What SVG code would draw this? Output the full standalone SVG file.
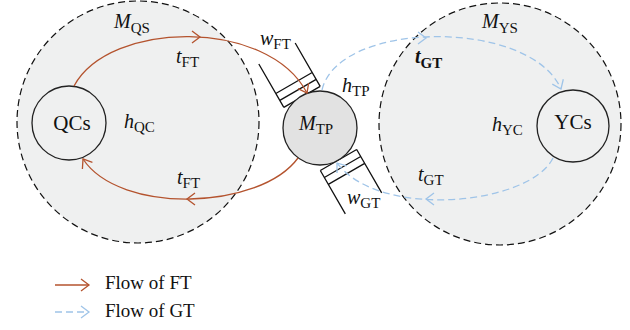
<svg xmlns="http://www.w3.org/2000/svg" width="630" height="330" viewBox="0 0 630 330">
<style>
.zone{fill:#eff0f0;stroke:#111;stroke-width:1.2;stroke-dasharray:7 4}
.node{fill:#eff0f0;stroke:#222;stroke-width:1.3}
.tp{fill:#e2e2e2;stroke:#222;stroke-width:1.3}
.gate{fill:none;stroke:#111;stroke-width:1.3}
.ft{fill:none;stroke:#b4532e;stroke-width:1.3}
.gt{fill:none;stroke:#9fc4e8;stroke-width:1.3;stroke-dasharray:7 4}
.chev-ft{fill:none;stroke:#b4532e;stroke-width:1.3}
.chev-gt{fill:none;stroke:#9fc4e8;stroke-width:1.3}
text{font-family:"Liberation Serif","Times New Roman",serif;fill:#111}
.v{font-style:italic;font-size:20px}
.s{font-size:15px;font-style:normal}
.b{font-weight:bold}
.lbl{font-size:21px}
.leg{font-size:19px}
</style>
<defs>
<marker id="afT" markerWidth="12" markerHeight="14" refX="10" refY="7" orient="auto" markerUnits="userSpaceOnUse">
<path d="M2,1 L10,7 L2,13" class="chev-ft"/>
</marker>
<marker id="agT" markerWidth="12" markerHeight="14" refX="10" refY="7" orient="auto" markerUnits="userSpaceOnUse">
<path d="M2,1 L10,7 L2,13" class="chev-gt"/>
</marker>
<path id="chev" d="M-8,-6 L0,0 L-8,6"/>
</defs>

<g id="zone-QS"><circle cx="138" cy="122" r="121" class="zone"/></g>
<g id="zone-YS"><circle cx="500" cy="124" r="121" class="zone"/></g>
<g id="node-QCs"><circle cx="69" cy="123" r="37" class="node"/></g>
<g id="node-YCs"><circle cx="573" cy="126" r="36" class="node"/></g>

<g id="gate-FT" class="gate" transform="translate(320,128) rotate(-120) translate(36,0)">
<path d="M0,-21 L50,-21 M0,21 L50,21 M0,-21 L0,21 M8,-21 L8,21 M16,-21 L16,21"/>
</g>
<g id="gate-GT" class="gate" transform="translate(320,128) rotate(60) translate(37,0)">
<path d="M0,-21 L50,-21 M0,21 L50,21 M0,-21 L0,21 M8,-21 L8,21 M16,-21 L16,21"/>
</g>
<g id="node-TP"><circle cx="320" cy="128" r="37" class="tp"/></g>

<g id="connectors">
<path class="ft" d="M74,86 C110,20 268,18 307,93" marker-end="url(#afT)"/>
<path class="ft" d="M298,158 C260,210 120,215 83,159" marker-end="url(#afT)"/>
<path class="gt" d="M322,90 C338,20 530,18 561,89" marker-end="url(#agT)"/>
<path class="gt" d="M553,158 C530,205 380,220 337,163" marker-end="url(#agT)"/>
<use href="#chev" class="chev-ft" transform="translate(200,37)"/>
<use href="#chev" class="chev-ft" transform="translate(187,199) rotate(180)"/>
<use href="#chev" class="chev-gt" transform="translate(426,38)"/>
<use href="#chev" class="chev-gt" transform="translate(426,199) rotate(180)"/>
</g>

<g id="labels">
<text class="v" x="114" y="28">M<tspan class="s" y="33">QS</tspan></text>
<text class="v" x="176" y="63">t<tspan class="s" y="67">FT</tspan></text>
<text class="v" x="124" y="128">h<tspan class="s" y="132">QC</tspan></text>
<text class="v" x="177" y="184">t<tspan class="s" y="188">FT</tspan></text>
<text class="lbl" x="72" y="130" text-anchor="middle">QCs</text>
<text class="v" x="260" y="45">w<tspan class="s" y="49">FT</tspan></text>
<text class="v" x="342" y="92">h<tspan class="s" y="96">TP</tspan></text>
<text class="v" x="299" y="130">M<tspan class="s" y="134">TP</tspan></text>
<text class="v" x="347" y="204">w<tspan class="s" y="208">GT</tspan></text>
<text class="v b" x="415" y="63">t<tspan class="s b" y="68">GT</tspan></text>
<text class="v" x="482" y="28">M<tspan class="s" y="33">YS</tspan></text>
<text class="v" x="492" y="131">h<tspan class="s" y="135">YC</tspan></text>
<text class="lbl" x="573" y="129" text-anchor="middle">YCs</text>
<text class="v" x="418" y="181">t<tspan class="s" y="185">GT</tspan></text>
</g>

<g id="legend">
<path class="ft" d="M55,285 L89,285" marker-end="url(#afT)"/>
<path class="gt" d="M55,312 L89,312" stroke-dasharray="6 5" marker-end="url(#agT)"/>
<text class="leg" x="105" y="289">Flow of FT</text>
<text class="leg" x="105" y="317">Flow of GT</text>
</g>
</svg>
